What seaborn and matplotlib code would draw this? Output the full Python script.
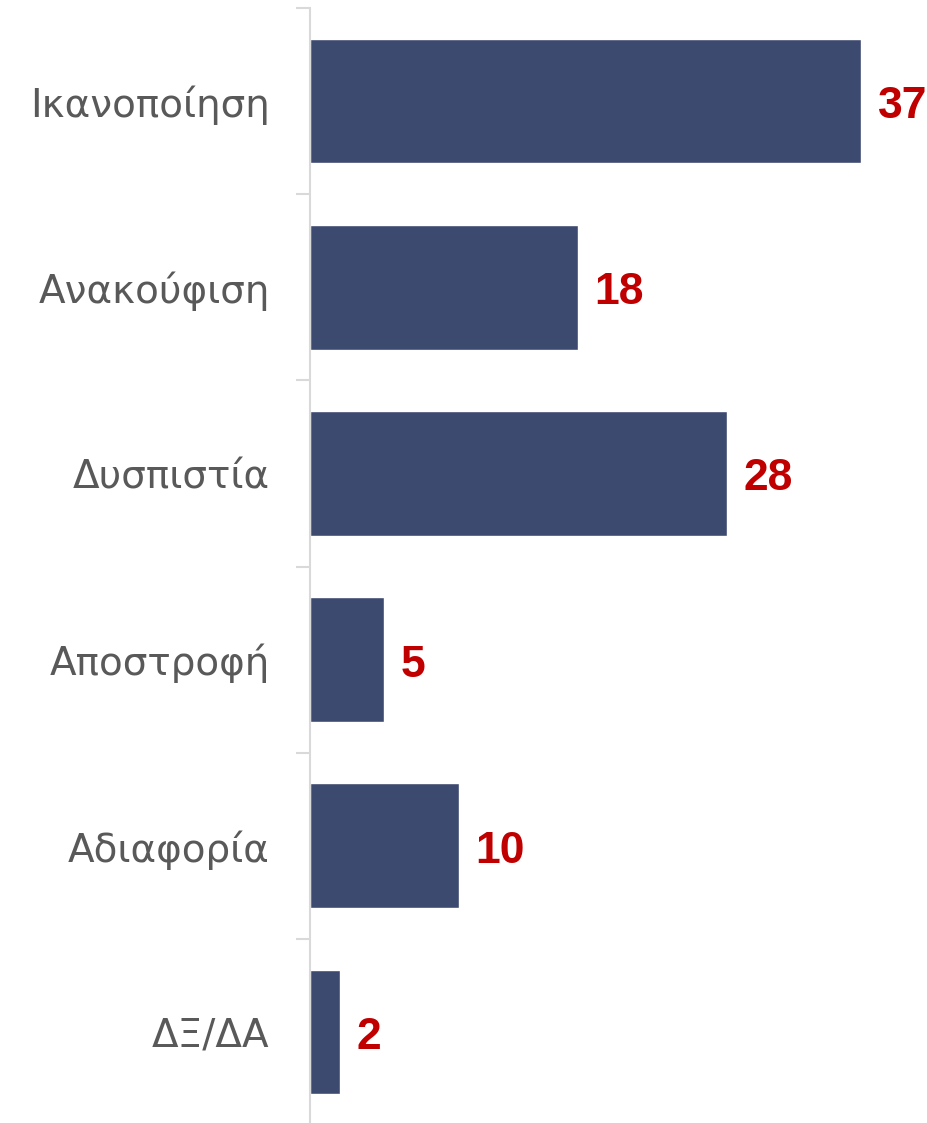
import matplotlib
matplotlib.use("Agg")
import matplotlib.pyplot as plt
import seaborn as sns
import pandas as pd

categories = ["Ικανοποίηση", "Ανακούφιση", "Δυσπιστία", "Αποστροφή", "Αδιαφορία", "ΔΞ/ΔΑ"]
values = [37, 18, 28, 5, 10, 2]

sns.set_theme(style="white")
plt.rcParams['font.family'] = ['DejaVu Sans']

df = pd.DataFrame({"category": categories, "value": values})

W, H = 928, 1123
fig = plt.figure(figsize=(W / 100, H / 100), dpi=100)
ax = fig.add_axes([310 / W, 0, (W - 310) / W, (H - 8) / H])

sns.barplot(data=df, x="value", y="category", orient="h", color="#3D4A6F",
            saturation=1, width=0.67, ax=ax)

ax.set_xlim(0, (W - 310) / 14.89)
ax.set_ylim(5.5 - 2 / 186, -0.5)

for i, v in enumerate(values):
    ax.annotate(str(v), xy=(v, i), xytext=(12, -4), textcoords="offset points",
                va="center", ha="left", color="#C00000", fontsize=32,
                fontweight="bold", family=["Liberation Sans", "DejaVu Sans"])

ax.set_xlabel("")
ax.set_ylabel("")
ax.set_xticks([])
ax.set_yticks([i - 0.5 for i in range(len(categories))])
ax.set_yticklabels([])
ax.set_yticks(range(len(categories)), minor=True)
ax.set_yticklabels(categories, minor=True, fontsize=28, color="#595959")
ax.tick_params(axis="y", which="major", length=10, width=1.5, color="#D9D9D9", left=True)
ax.tick_params(axis="y", which="minor", length=0, pad=29)

for s in ["top", "right", "bottom"]:
    ax.spines[s].set_visible(False)
ax.spines["left"].set_color("#D9D9D9")
ax.spines["left"].set_linewidth(1.5)

fig.savefig("out.png", dpi=100)
